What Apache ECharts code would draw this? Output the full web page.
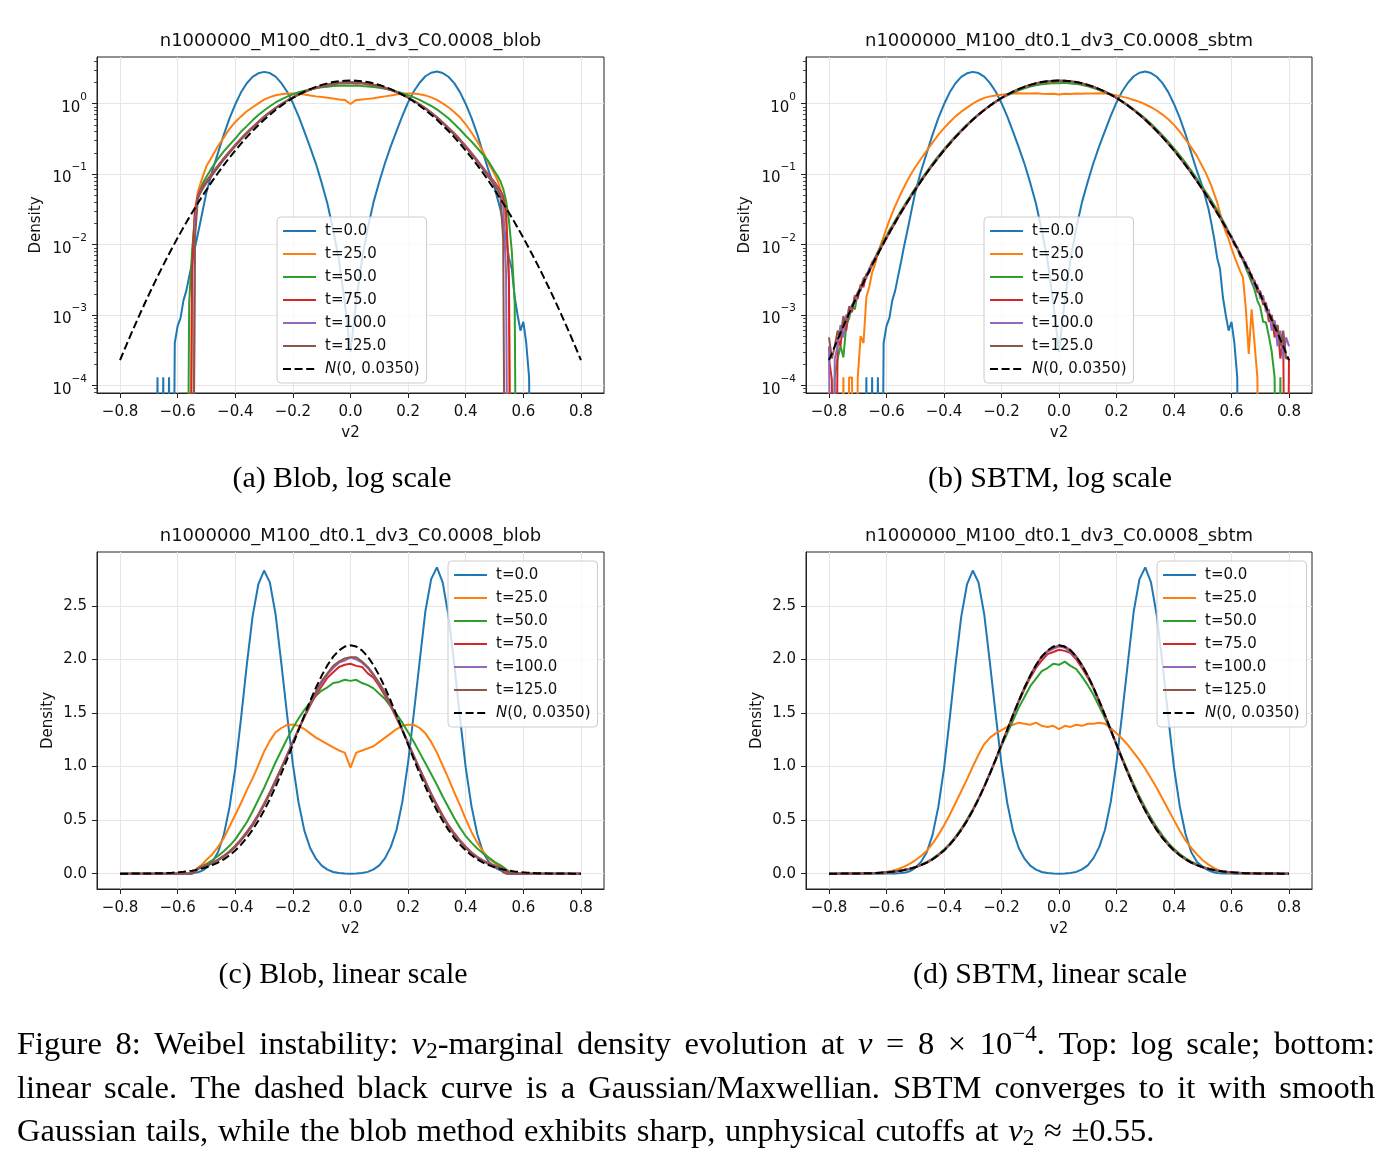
<!DOCTYPE html>
<html>
<head>
<meta charset="utf-8">
<title>Weibel instability: v2-marginal density evolution</title>
<script src="https://cdn.jsdelivr.net/npm/echarts@6.0.0/dist/echarts.min.js"></script>
<style>
    html, body { margin: 0; padding: 0; background: #ffffff; }
    #chart { width: 1392px; height: 1166px; }
</style>
</head>
<body>
<div id="chart"></div>
<script>
// v2 bin centres shared by every curve (finer in the tails)
var v2Grid = [
    -0.80, -0.79, -0.78, -0.77, -0.76, -0.75, -0.74, -0.73, -0.72, -0.71, -0.70, -0.69, -0.68, -0.67, -0.66, -0.65, -0.64, -0.63, -0.62, -0.61, -0.60, -0.59, -0.58, -0.57, -0.56, -0.55, -0.54, -0.53, -0.52, -0.51, -0.50,
    -0.48, -0.46, -0.44, -0.42, -0.40, -0.38, -0.36, -0.34, -0.32, -0.30, -0.28, -0.26, -0.24, -0.22, -0.20, -0.18, -0.16, -0.14, -0.12, -0.10, -0.08, -0.06, -0.04, -0.02, 0.00,
    0.02, 0.04, 0.06, 0.08, 0.10, 0.12, 0.14, 0.16, 0.18, 0.20, 0.22, 0.24, 0.26, 0.28, 0.30, 0.32, 0.34, 0.36, 0.38, 0.40, 0.42, 0.44, 0.46, 0.48,
    0.50, 0.51, 0.52, 0.53, 0.54, 0.55, 0.56, 0.57, 0.58, 0.59, 0.60, 0.61, 0.62, 0.63, 0.64, 0.65, 0.66, 0.67, 0.68, 0.69, 0.70, 0.71, 0.72, 0.73, 0.74, 0.75, 0.76, 0.77, 0.78, 0.79, 0.80
];

// dashed reference curve N(0, 0.0350)
var gauss = [
    0.000228, 0.000286, 0.000358, 0.000447, 0.000556, 0.000690, 0.000853, 0.001054, 0.001295, 0.001590, 0.001944, 0.002372, 0.002883, 0.003498, 0.004229, 0.005100, 0.006133, 0.007352, 0.008790, 0.01048, 0.01245, 0.01476, 0.01744, 0.02057, 0.02416, 0.02832, 0.03308, 0.03856, 0.04480, 0.05190, 0.05995,
    0.07935, 0.1038, 0.1342, 0.1716, 0.2169, 0.2710, 0.3348, 0.4090, 0.4938, 0.5895, 0.6958, 0.8118, 0.9365, 1.068, 1.204, 1.342, 1.479, 1.612, 1.736, 1.849, 1.946, 2.026, 2.084, 2.120, 2.132,
    2.120, 2.084, 2.026, 1.946, 1.849, 1.736, 1.612, 1.479, 1.342, 1.204, 1.068, 0.9365, 0.8118, 0.6958, 0.5895, 0.4938, 0.4090, 0.3348, 0.2710, 0.2169, 0.1716, 0.1342, 0.1038, 0.07935,
    0.05995, 0.05190, 0.04480, 0.03856, 0.03308, 0.02832, 0.02416, 0.02057, 0.01744, 0.01476, 0.01245, 0.01048, 0.008790, 0.007352, 0.006133, 0.005100, 0.004229, 0.003498, 0.002883, 0.002372, 0.001944, 0.001590, 0.001295, 0.001054, 0.000853, 0.000690, 0.000556, 0.000447, 0.000358, 0.000286, 0.000228
];

// t=0.0 (same initial sample for both methods)
var t0 = [
    0, 0, 0, 0, 0, 0, 0, 0, 0, 0, 0, 0, 0, 0.00013, 0, 0.00013, 0, 0.00013, 0, 0.0004, 0.0007, 0.0009, 0.0016, 0.0022, 0.0035, 0.0055, 0.009, 0.014, 0.022, 0.035, 0.055,
    0.11, 0.20, 0.36, 0.62, 0.98, 1.45, 1.95, 2.40, 2.70, 2.83, 2.72, 2.42, 1.96, 1.48, 1.02, 0.66, 0.40, 0.24, 0.14, 0.075, 0.038, 0.016, 0.006, 0.0015, 0.0003,
    0.0016, 0.0062, 0.017, 0.040, 0.078, 0.145, 0.25, 0.41, 0.67, 1.04, 1.50, 1.98, 2.45, 2.75, 2.86, 2.72, 2.41, 1.96, 1.46, 0.99, 0.63, 0.37, 0.20, 0.11,
    0.065, 0.045, 0.032, 0.020, 0.012, 0.0065, 0.0045, 0.0018, 0.0010, 0.0006, 0.0008, 0.0004, 0.00013, 0, 0, 0, 0, 0, 0, 0, 0, 0, 0, 0, 0, 0, 0, 0, 0, 0, 0
];

// blob method
var blob25 = [
    0, 0, 0, 0, 0, 0, 0, 0, 0, 0, 0, 0, 0, 0, 0, 0, 0, 0, 0, 0, 0, 0, 0, 0, 0, 0.006, 0.030, 0.055, 0.075, 0.10, 0.13,
    0.18, 0.25, 0.33, 0.44, 0.55, 0.66, 0.78, 0.89, 1.01, 1.14, 1.24, 1.32, 1.36, 1.39, 1.39, 1.38, 1.35, 1.31, 1.27, 1.24, 1.21, 1.18, 1.15, 1.13, 0.99,
    1.13, 1.15, 1.17, 1.19, 1.23, 1.27, 1.31, 1.35, 1.38, 1.39, 1.39, 1.36, 1.31, 1.23, 1.13, 1.01, 0.89, 0.76, 0.64, 0.51, 0.39, 0.29, 0.21, 0.14,
    0.10, 0.082, 0.062, 0.044, 0.022, 0.004, 0, 0, 0, 0, 0, 0, 0, 0, 0, 0, 0, 0, 0, 0, 0, 0, 0, 0, 0, 0, 0, 0, 0, 0, 0
];
var blob50 = [
    0, 0, 0, 0, 0, 0, 0, 0, 0, 0, 0, 0, 0, 0, 0, 0, 0, 0, 0, 0, 0, 0, 0, 0, 0.0015, 0.008, 0.025, 0.045, 0.062, 0.078, 0.092,
    0.125, 0.165, 0.21, 0.26, 0.32, 0.40, 0.48, 0.58, 0.69, 0.80, 0.92, 1.04, 1.15, 1.26, 1.36, 1.45, 1.53, 1.60, 1.66, 1.71, 1.74, 1.78, 1.79, 1.81, 1.80,
    1.81, 1.78, 1.76, 1.73, 1.68, 1.63, 1.56, 1.49, 1.41, 1.32, 1.23, 1.13, 1.03, 0.93, 0.83, 0.72, 0.62, 0.52, 0.43, 0.35, 0.29, 0.235, 0.19, 0.15,
    0.11, 0.095, 0.08, 0.062, 0.042, 0.022, 0.008, 0.0015, 0, 0, 0, 0, 0, 0, 0, 0, 0, 0, 0, 0, 0, 0, 0, 0, 0, 0, 0, 0, 0, 0, 0
];
var blob75 = [
    0, 0, 0, 0, 0, 0, 0, 0, 0, 0, 0, 0, 0, 0, 0, 0, 0, 0, 0, 0, 0, 0, 0, 0, 0, 0.004, 0.030, 0.050, 0.060, 0.070, 0.080,
    0.103, 0.132, 0.168, 0.21, 0.262, 0.322, 0.39, 0.465, 0.555, 0.655, 0.76, 0.875, 0.99, 1.11, 1.23, 1.35, 1.46, 1.57, 1.67, 1.75, 1.83, 1.88, 1.93, 1.95, 1.96,
    1.94, 1.93, 1.87, 1.83, 1.75, 1.66, 1.56, 1.45, 1.34, 1.22, 1.10, 0.98, 0.865, 0.75, 0.645, 0.545, 0.455, 0.38, 0.312, 0.252, 0.20, 0.158, 0.124, 0.097,
    0.077, 0.067, 0.058, 0.048, 0.030, 0.003, 0, 0, 0, 0, 0, 0, 0, 0, 0, 0, 0, 0, 0, 0, 0, 0, 0, 0, 0, 0, 0, 0, 0, 0, 0
];
var blob100 = [
    0, 0, 0, 0, 0, 0, 0, 0, 0, 0, 0, 0, 0, 0, 0, 0, 0, 0, 0, 0, 0, 0, 0, 0, 0, 0, 0.020, 0.047, 0.057, 0.067, 0.077,
    0.099, 0.128, 0.163, 0.205, 0.255, 0.315, 0.382, 0.457, 0.545, 0.645, 0.75, 0.865, 0.985, 1.105, 1.23, 1.35, 1.47, 1.58, 1.69, 1.78, 1.86, 1.92, 1.97, 1.99, 2.02,
    2.00, 1.97, 1.92, 1.85, 1.77, 1.68, 1.57, 1.46, 1.34, 1.22, 1.095, 0.975, 0.855, 0.74, 0.635, 0.535, 0.447, 0.37, 0.305, 0.245, 0.195, 0.154, 0.120, 0.093,
    0.073, 0.063, 0.054, 0.038, 0.004, 0, 0, 0, 0, 0, 0, 0, 0, 0, 0, 0, 0, 0, 0, 0, 0, 0, 0, 0, 0, 0, 0, 0, 0, 0, 0
];
var blob125 = [
    0, 0, 0, 0, 0, 0, 0, 0, 0, 0, 0, 0, 0, 0, 0, 0, 0, 0, 0, 0, 0, 0, 0, 0, 0, 0, 0.012, 0.045, 0.055, 0.065, 0.075,
    0.097, 0.125, 0.160, 0.200, 0.250, 0.31, 0.375, 0.45, 0.54, 0.64, 0.745, 0.86, 0.98, 1.10, 1.23, 1.35, 1.47, 1.59, 1.70, 1.80, 1.87, 1.94, 1.98, 2.01, 2.02,
    2.02, 1.98, 1.93, 1.86, 1.78, 1.69, 1.58, 1.46, 1.34, 1.22, 1.09, 0.97, 0.85, 0.735, 0.63, 0.53, 0.44, 0.365, 0.30, 0.24, 0.19, 0.150, 0.117, 0.090,
    0.070, 0.060, 0.050, 0.012, 0, 0, 0, 0, 0, 0, 0, 0, 0, 0, 0, 0, 0, 0, 0, 0, 0, 0, 0, 0, 0, 0, 0, 0, 0, 0, 0
];

// SBTM
var sbtm25 = [
    0, 0, 0, 0, 0, 0.00013, 0, 0.00013, 0.00013, 0, 0.00013, 0.0005, 0.0004, 0.0018, 0.0025, 0.0040, 0.0052, 0.0075, 0.0100, 0.013, 0.017, 0.022, 0.028, 0.035, 0.043, 0.053, 0.064, 0.077, 0.092, 0.108, 0.125,
    0.165, 0.215, 0.28, 0.36, 0.45, 0.55, 0.66, 0.77, 0.88, 1.00, 1.11, 1.21, 1.27, 1.31, 1.34, 1.37, 1.39, 1.41, 1.40, 1.39, 1.41, 1.38, 1.37, 1.38, 1.35,
    1.38, 1.37, 1.39, 1.38, 1.40, 1.40, 1.41, 1.40, 1.36, 1.31, 1.26, 1.20, 1.13, 1.06, 0.98, 0.89, 0.80, 0.70, 0.60, 0.50, 0.40, 0.31, 0.24, 0.18,
    0.125, 0.105, 0.085, 0.068, 0.052, 0.040, 0.028, 0.020, 0.015, 0.012, 0.0088, 0.0068, 0.0053, 0.0042, 0.0034, 0.0012, 0.00028, 0.0012, 0.0004, 0.00013, 0, 0, 0, 0, 0, 0, 0, 0, 0, 0, 0
];
var sbtm50 = [
    0, 0, 0.00013, 0.00024, 0.00036, 0.00025, 0.00072, 0.0009, 0.0014, 0.0012, 0.0021, 0.0025, 0.0030, 0.0037, 0.0044, 0.0055, 0.0065, 0.0079, 0.0094, 0.0114, 0.0133, 0.0160, 0.0185, 0.0220, 0.0255, 0.0302, 0.0348, 0.0408, 0.0470, 0.0547, 0.0630,
    0.0835, 0.109, 0.141, 0.180, 0.226, 0.281, 0.345, 0.420, 0.505, 0.600, 0.705, 0.815, 0.935, 1.06, 1.19, 1.31, 1.43, 1.55, 1.65, 1.75, 1.82, 1.89, 1.92, 1.96, 1.95,
    1.98, 1.94, 1.91, 1.84, 1.76, 1.67, 1.56, 1.45, 1.33, 1.21, 1.08, 0.955, 0.835, 0.72, 0.615, 0.52, 0.432, 0.355, 0.288, 0.232, 0.184, 0.145, 0.112, 0.086,
    0.065, 0.056, 0.049, 0.042, 0.036, 0.031, 0.026, 0.022, 0.0185, 0.0150, 0.0132, 0.0104, 0.0090, 0.0070, 0.0060, 0.0046, 0.0037, 0.0029, 0.0023, 0.0016, 0.0013, 0.0008, 0.00078, 0.0005, 0.00030, 0.00013, 0, 0.00013, 0, 0, 0
];
var sbtm75 = [
    0.00024, 0.00012, 0, 0.00048, 0.00036, 0.00084, 0.00060, 0.0012, 0.0011, 0.0019, 0.0017, 0.0027, 0.0025, 0.0038, 0.0040, 0.0056, 0.0058, 0.0077, 0.0086, 0.0110, 0.0121, 0.0152, 0.0170, 0.0210, 0.0238, 0.0290, 0.0326, 0.0392, 0.0445, 0.0525, 0.0600,
    0.0800, 0.1045, 0.1350, 0.1725, 0.218, 0.272, 0.336, 0.411, 0.496, 0.592, 0.699, 0.815, 0.94, 1.07, 1.205, 1.34, 1.475, 1.605, 1.72, 1.83, 1.92, 1.99, 2.05, 2.07, 2.09,
    2.08, 2.06, 2.00, 1.92, 1.83, 1.73, 1.60, 1.475, 1.34, 1.205, 1.07, 0.94, 0.815, 0.70, 0.594, 0.497, 0.412, 0.337, 0.273, 0.219, 0.1735, 0.1355, 0.1045, 0.0800,
    0.0605, 0.0520, 0.0455, 0.0380, 0.0340, 0.0280, 0.0246, 0.0200, 0.0180, 0.0143, 0.0130, 0.0098, 0.0092, 0.0068, 0.0065, 0.0048, 0.0046, 0.0032, 0.0031, 0.0021, 0.0022, 0.0014, 0.0015, 0.0008, 0.0010, 0.00048, 0.00072, 0.00024, 0.00048, 0, 0.00024
];
var sbtm100 = [
    0.00036, 0, 0.00024, 0.00036, 0.00072, 0.00048, 0.0010, 0.00096, 0.0014, 0.0015, 0.0021, 0.0022, 0.0031, 0.0033, 0.0046, 0.0049, 0.0065, 0.0071, 0.0093, 0.0101, 0.0130, 0.0143, 0.0180, 0.0199, 0.0248, 0.0277, 0.0337, 0.0380, 0.0455, 0.0515, 0.0605,
    0.0795, 0.1040, 0.1345, 0.1720, 0.2175, 0.2715, 0.335, 0.410, 0.495, 0.591, 0.697, 0.813, 0.938, 1.07, 1.205, 1.343, 1.48, 1.61, 1.735, 1.845, 1.94, 2.02, 2.07, 2.10, 2.12,
    2.11, 2.07, 2.02, 1.94, 1.845, 1.73, 1.61, 1.478, 1.342, 1.204, 1.068, 0.937, 0.812, 0.696, 0.590, 0.494, 0.409, 0.335, 0.271, 0.217, 0.1718, 0.1343, 0.1040, 0.0795,
    0.0598, 0.0525, 0.0445, 0.0392, 0.0326, 0.0290, 0.0238, 0.0210, 0.0170, 0.0152, 0.0121, 0.0110, 0.0086, 0.0077, 0.0058, 0.0056, 0.0040, 0.0038, 0.0025, 0.0027, 0.0017, 0.0019, 0.0011, 0.0012, 0.0006, 0.00084, 0.00036, 0.00060, 0.00024, 0.00048, 0.00036
];
var sbtm125 = [
    0.00048, 0.00024, 0.00036, 0.00060, 0.00048, 0.00096, 0.00072, 0.00132, 0.0012, 0.0018, 0.0020, 0.0024, 0.0033, 0.0036, 0.0041, 0.0054, 0.0063, 0.0072, 0.0091, 0.0104, 0.0128, 0.0146, 0.0178, 0.0204, 0.0245, 0.0282, 0.0332, 0.0384, 0.0450, 0.0518, 0.0602,
    0.0796, 0.1040, 0.1343, 0.1718, 0.2172, 0.2712, 0.3352, 0.4093, 0.4941, 0.590, 0.696, 0.812, 0.937, 1.069, 1.206, 1.344, 1.482, 1.615, 1.74, 1.85, 1.95, 2.03, 2.08, 2.11, 2.13,
    2.12, 2.09, 2.03, 1.95, 1.85, 1.74, 1.613, 1.48, 1.343, 1.205, 1.069, 0.937, 0.812, 0.696, 0.590, 0.494, 0.409, 0.335, 0.271, 0.217, 0.1716, 0.1342, 0.1038, 0.0794,
    0.0600, 0.0519, 0.0450, 0.0383, 0.0334, 0.0281, 0.0244, 0.0203, 0.0176, 0.0146, 0.0126, 0.0103, 0.0090, 0.0072, 0.0063, 0.0049, 0.0044, 0.0034, 0.0030, 0.0022, 0.0021, 0.0015, 0.0014, 0.00096, 0.00096, 0.00060, 0.00072, 0.00036, 0.00060, 0.00024, 0.00024
];

var seriesNames = ["t=0.0", "t=25.0", "t=50.0", "t=75.0", "t=100.0", "t=125.0", "N(0, 0.0350)"];
var seriesColors = ["#1f77b4", "#ff7f0e", "#2ca02c", "#d62728", "#9467bd", "#8c564b", "#000000"];

var xTicks = [-0.8, -0.6, -0.4, -0.2, 0, 0.2, 0.4, 0.6, 0.8];
var logTicks = [1e-4, 1e-3, 1e-2, 1e-1, 1];
var linTicks = [0, 0.5, 1, 1.5, 2, 2.5];

var panelTitles = [
    "n1000000_M100_dt0.1_dv3_C0.0008_blob",
    "n1000000_M100_dt0.1_dv3_C0.0008_sbtm",
    "n1000000_M100_dt0.1_dv3_C0.0008_blob",
    "n1000000_M100_dt0.1_dv3_C0.0008_sbtm"
];
var subCaptions = ["(a) Blob, log scale", "(b) SBTM, log scale", "(c) Blob, linear scale", "(d) SBTM, linear scale"];

var captionLine1 = ["Figure", "8:", "Weibel", "instability:", [["v", "i"], ["2", "sub"], ["-marginal", "n"]],
    "density", "evolution", "at", [["ν", "i"]], "=", "8", "×", [["10", "n"], ["−4", "sup"], [".", "n"]],
    "Top:", "log", "scale;", "bottom:"];
var captionLine2 = "linear scale. The dashed black curve is a Gaussian/Maxwellian. SBTM converges to it with smooth".split(" ");
var captionLine3 = "Gaussian tails, while the blob method exhibits sharp, unphysical cutoffs at".split(" ")
    .concat([[["v", "i"], ["2", "sub"]], "≈", "±0.55."]);

// ---------------------------------------------------------------------------
var SANS = "DejaVu Sans";
var SERIF = "Liberation Serif";
var INK = "#111111";
var LOG_MIN = 7.8e-5, LOG_MAX = 4.6, LOG_FLOOR = 1e-9;

[gauss, t0, blob25, blob50, blob75, blob100, blob125, sbtm25, sbtm50, sbtm75, sbtm100, sbtm125].forEach(function (a, k) {
    if (a.length !== v2Grid.length) {
        console.error("series " + k + " has " + a.length + " values, expected " + v2Grid.length);
    }
});

var logMinorTicks = [];
for (var e = -5; e <= 0; e++) {
    for (var m = 2; m <= 9; m++) {
        var mv = m * Math.pow(10, e);
        if (mv >= LOG_MIN && mv <= LOG_MAX) {
            logMinorTicks.push(mv);
        }
    }
}

var panels = [
    {grid: {left: 97, top: 57, width: 507, height: 336}, log: true, set: [t0, blob25, blob50, blob75, blob100, blob125, gauss], legend: {left: 277, top: 217}},
    {grid: {left: 806, top: 57, width: 506, height: 336}, log: true, set: [t0, sbtm25, sbtm50, sbtm75, sbtm100, sbtm125, gauss], legend: {left: 984, top: 217}},
    {grid: {left: 97, top: 552, width: 507, height: 337}, log: false, set: [t0, blob25, blob50, blob75, blob100, blob125, gauss], legend: {left: 448, top: 561}},
    {grid: {left: 806, top: 552, width: 506, height: 337}, log: false, set: [t0, sbtm25, sbtm50, sbtm75, sbtm100, sbtm125, gauss], legend: {left: 1157, top: 561}}
];

// "10" with a raised exponent, as matplotlib's mathtext draws it
function fmtLog(v) {
    var ex = Math.round(Math.log(v) / Math.LN10);
    return "{b|10}{s|" + (ex < 0 ? "−" + (-ex) : String(ex)) + "}";
}
function fmtX(v) {
    if (Math.abs(v) < 1e-9) {
        return "0.0";
    }
    return (v < 0 ? "−" : "") + Math.abs(v).toFixed(1);
}

var axisLineStyle = {color: "#222222", width: 1};
var splitStyle = {color: "#e6e6e6", width: 1};

var grids = panels.map(function (p) {
    return {
        left: p.grid.left, top: p.grid.top, width: p.grid.width, height: p.grid.height,
        show: true, borderColor: "#222222", borderWidth: 1, backgroundColor: "transparent",
        containLabel: false, outerBoundsMode: "none"
    };
});

var xAxes = panels.map(function (p, i) {
    return {
        type: "value", gridIndex: i, min: -0.88, max: 0.88,
        axisLine: {show: true, onZero: false, lineStyle: axisLineStyle},
        axisTick: {show: true, length: 5, customValues: xTicks, lineStyle: axisLineStyle},
        axisLabel: {customValues: xTicks, formatter: fmtX, margin: 12,
            fontFamily: SANS, fontSize: 15, color: INK},
        splitLine: {show: true, lineStyle: splitStyle}
    };
});

var yAxes = panels.map(function (p, i) {
    var ax = {
        gridIndex: i,
        axisLine: {show: true, onZero: false, lineStyle: axisLineStyle},
        splitLine: {show: true, lineStyle: splitStyle}
    };
    if (p.log) {
        ax.type = "log";
        ax.logBase = 10;
        ax.min = LOG_MIN;
        ax.max = LOG_MAX;
        ax.axisTick = {show: true, length: 5, customValues: logTicks, lineStyle: axisLineStyle};
        ax.axisLabel = {customValues: logTicks, formatter: fmtLog, margin: 10,
            fontFamily: SANS, fontSize: 15, color: INK,
            rich: {
                b: {fontFamily: SANS, fontSize: 15, color: INK, lineHeight: 24, verticalAlign: "bottom"},
                s: {fontFamily: SANS, fontSize: 10.5, color: INK, lineHeight: 12, verticalAlign: "top"}
            }};
    } else {
        ax.type = "value";
        ax.min = -0.143;
        ax.max = 3.003;
        ax.axisTick = {show: true, length: 5, customValues: linTicks, lineStyle: axisLineStyle};
        ax.axisLabel = {customValues: linTicks, margin: 10,
            formatter: function (v) { return v.toFixed(1); },
            fontFamily: SANS, fontSize: 15, color: INK};
    }
    return ax;
});
// minor ticks of the two log axes
[0, 1].forEach(function (i) {
    yAxes.push({
        type: "log", logBase: 10, gridIndex: i, min: LOG_MIN, max: LOG_MAX, position: "left",
        axisLine: {show: false, onZero: false},
        axisTick: {show: true, length: 3, customValues: logMinorTicks, lineStyle: {color: "#222222", width: 0.8}},
        axisLabel: {show: false},
        splitLine: {show: false}
    });
});

var series = [];
panels.forEach(function (p, pi) {
    p.set.forEach(function (ys, k) {
        series.push({
            name: seriesNames[k],
            type: "line",
            xAxisIndex: pi,
            yAxisIndex: pi,
            showSymbol: false,
            symbol: "none",
            silent: true,
            animation: false,
            data: v2Grid.map(function (v, j) {
                var y = ys[j];
                return [v, (p.log && y <= 0) ? LOG_FLOOR : y];
            }),
            itemStyle: {color: seriesColors[k]},
            lineStyle: {color: seriesColors[k], width: 2, type: k === 6 ? [8, 3.6] : "solid"}
        });
    });
});

var legends = panels.map(function (p) {
    return {
        data: seriesNames,
        left: p.legend.left, top: p.legend.top,
        orient: "vertical",
        itemWidth: 33, itemHeight: 16, itemGap: 7,
        padding: [6, 7, 6, 5],
        backgroundColor: "rgba(255,255,255,0.8)",
        borderColor: "#cccccc", borderWidth: 1, borderRadius: 4,
        selectedMode: false,
        itemStyle: {opacity: 0, borderWidth: 0},
        lineStyle: {width: 2},
        formatter: function (name) {
            if (name.charAt(0) === "N") {
                return "{it|N}{n|" + name.slice(1) + "}";
            }
            return "{n|" + name + "}";
        },
        textStyle: {
            fontFamily: SANS, fontSize: 15, color: INK, lineHeight: 16, padding: [0, 0, 0, 4],
            rich: {
                it: {fontFamily: SANS, fontSize: 15, fontStyle: "italic", color: INK, lineHeight: 16},
                n: {fontFamily: SANS, fontSize: 15, color: INK, lineHeight: 16}
            }
        }
    };
});

// ---------------------------------------------------------------------------
// texts: titles, axis names, sub captions and the figure caption
var measureCtx = document.createElement("canvas").getContext("2d");
function serifFont(kind, size) {
    return (kind === "i" ? "italic " : "") + size + "px \"" + SERIF + "\"";
}
function segSize(kind, size) {
    return (kind === "sub" || kind === "sup") ? Math.round(size * 0.7) : size;
}
function segDy(kind, size) {
    if (kind === "sub") { return size * 0.22; }
    if (kind === "sup") { return -size * 0.3; }
    return 0;
}
function segWidth(seg, size) {
    measureCtx.font = serifFont(seg[1], segSize(seg[1], size));
    return measureCtx.measureText(seg[0]).width;
}
function wordSegs(w) {
    return typeof w === "string" ? [[w, "n"]] : w;
}
function wordWidth(w, size) {
    return wordSegs(w).reduce(function (s, seg) { return s + segWidth(seg, size); }, 0);
}
function lineWidth(words, size) {
    return words.reduce(function (s, w) { return s + wordWidth(w, size); }, 0);
}

var captionLeft = 17, captionRight = 1375, captionLastEnd = 1155;
var capSize = 100 * (captionLastEnd - captionLeft) /
    (lineWidth(captionLine3, 100) + (captionLine3.length - 1) * 30);
capSize = Math.round(capSize * 10) / 10;
// sub captions: "(a) Blob, log scale" is about 219 px wide in the figure
var subSize = Math.round(100 * 219 / wordWidth(subCaptions[0], 100) * 10) / 10;

var graphics = [];
function addText(x, y, text, opts) {
    opts = opts || {};
    graphics.push({
        type: "text", x: x, y: y, rotation: opts.rotation || 0, silent: true, z: 100,
        style: {
            text: text, x: 0, y: 0,
            fill: opts.fill || INK,
            fontFamily: opts.fontFamily || SANS,
            fontSize: opts.fontSize || 15,
            fontStyle: opts.fontStyle || "normal",
            textAlign: opts.align || "center",
            textVerticalAlign: "middle"
        }
    });
}

function addCaptionLine(words, y, justify) {
    var widths = words.map(function (w) { return wordWidth(w, capSize); });
    var total = widths.reduce(function (a, b) { return a + b; }, 0);
    var gap = justify ? (captionRight - captionLeft - total) / (words.length - 1) : capSize * 0.3;
    var x = captionLeft;
    words.forEach(function (w, k) {
        var cx = x;
        wordSegs(w).forEach(function (seg) {
            var kind = seg[1] || "n";
            addText(cx, y + segDy(kind, capSize), seg[0], {
                fontFamily: SERIF, fontSize: segSize(kind, capSize),
                fontStyle: kind === "i" ? "italic" : "normal", align: "left", fill: "#000000"
            });
            cx += segWidth(seg, capSize);
        });
        x += widths[k] + gap;
    });
}

panels.forEach(function (p, i) {
    var cx = p.grid.left + p.grid.width / 2;
    var cy = p.grid.top + p.grid.height / 2;
    addText(cx, p.grid.top - 16, panelTitles[i], {fontSize: 18});
    addText(cx, p.grid.top + p.grid.height + 40, "v2", {fontSize: 15});
    addText(p.grid.left - (p.log ? 61 : 49), cy, "Density", {fontSize: 15, rotation: Math.PI / 2});
});
addText(342, 479, subCaptions[0], {fontFamily: SERIF, fontSize: subSize, fill: "#000000"});
addText(1050, 479, subCaptions[1], {fontFamily: SERIF, fontSize: subSize, fill: "#000000"});
addText(343, 975, subCaptions[2], {fontFamily: SERIF, fontSize: subSize, fill: "#000000"});
addText(1050, 975, subCaptions[3], {fontFamily: SERIF, fontSize: subSize, fill: "#000000"});

addCaptionLine(captionLine1, 1045, true);
addCaptionLine(captionLine2, 1089, true);
addCaptionLine(captionLine3, 1132, false);

var chart = echarts.init(document.getElementById("chart"), null, {renderer: "canvas"});
chart.setOption({
    backgroundColor: "#ffffff",
    animation: false,
    textStyle: {fontFamily: SANS},
    grid: grids,
    xAxis: xAxes,
    yAxis: yAxes,
    legend: legends,
    series: series,
    graphic: {elements: graphics}
});
</script>
</body>
</html>
